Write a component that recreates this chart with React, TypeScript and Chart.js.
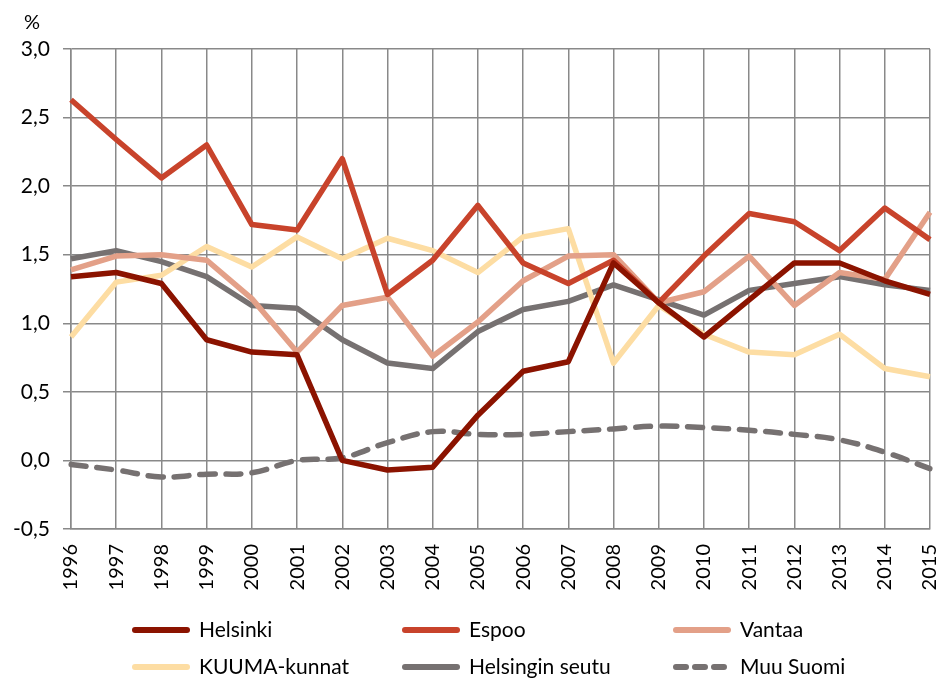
import React, { useEffect, useRef } from "react";
import { Chart, registerables } from "chart.js";

Chart.register(...registerables);

const years = ["1996","1997","1998","1999","2000","2001","2002","2003","2004","2005","2006","2007","2008","2009","2010","2011","2012","2013","2014","2015"];

const helsinki = [1.34,1.37,1.29,0.88,0.79,0.77,0.0,-0.07,-0.05,0.33,0.65,0.72,1.44,1.15,0.90,1.17,1.44,1.44,1.31,1.21];
const espoo = [2.63,2.34,2.06,2.30,1.72,1.68,2.20,1.21,1.46,1.86,1.44,1.29,1.46,1.15,1.49,1.80,1.74,1.53,1.84,1.61];
const vantaa = [1.39,1.49,1.50,1.46,1.18,0.79,1.13,1.19,0.76,1.01,1.31,1.49,1.50,1.15,1.23,1.49,1.13,1.37,1.32,1.81];
const kuuma = [0.90,1.30,1.35,1.56,1.41,1.63,1.47,1.62,1.53,1.37,1.63,1.69,0.71,1.13,0.92,0.79,0.77,0.92,0.67,0.61];
const seutu = [1.47,1.53,1.45,1.34,1.13,1.11,0.88,0.71,0.67,0.94,1.10,1.16,1.28,1.17,1.06,1.24,1.29,1.34,1.28,1.24];
const muuSuomi = [-0.03,-0.07,-0.12,-0.10,-0.09,0.00,0.02,0.13,0.21,0.19,0.19,0.21,0.23,0.25,0.24,0.22,0.19,0.15,0.06,-0.06];

const seriesNames = ["Helsinki","Espoo","Vantaa","KUUMA-kunnat","Helsingin seutu","Muu Suomi"];
const seriesColors = ["#8B1300","#C8432B","#E3A088","#FDDDA3","#767171","#767171"];

const FONT = "Lato, 'Open Sans', sans-serif";

const legendPlugin = {
  id: "customLegend",
  afterDraw(chart: any) {
    const ctx = chart.ctx;
    ctx.save();
    ctx.fillStyle = "#000";
    ctx.font = `20px ${FONT}`;
    ctx.textAlign = "center";
    ctx.textBaseline = "middle";
    ctx.fillText("%", 32, 23);
    const cols = [132, 402, 673];
    const rows = [630, 667];
    seriesNames.forEach((name, i) => {
      const x = cols[i % 3];
      const y = rows[Math.floor(i / 3)];
      ctx.strokeStyle = seriesColors[i];
      ctx.lineWidth = 6;
      ctx.lineCap = "round";
      if (i === 5) ctx.setLineDash([10, 9]);
      else ctx.setLineDash([]);
      ctx.beginPath();
      ctx.moveTo(x + 3, y);
      ctx.lineTo(x + 55, y);
      ctx.stroke();
      ctx.setLineDash([]);
      ctx.fillStyle = "#000";
      ctx.font = `21px ${FONT}`;
      ctx.textAlign = "left";
      ctx.textBaseline = "middle";
      ctx.fillText(name, x + 67, y);
    });
    ctx.restore();
  },
};

export default function App() {
  const ref = useRef<HTMLCanvasElement | null>(null);
  useEffect(() => {
    document.body.style.margin = "0";
    const allData = [helsinki, espoo, vantaa, kuuma, seutu, muuSuomi];
    const chart = new Chart(ref.current as HTMLCanvasElement, {
      type: "line",
      data: {
        labels: years,
        datasets: allData.map((d, i) => ({
          label: seriesNames[i],
          data: d,
          borderColor: seriesColors[i],
          backgroundColor: seriesColors[i],
          borderWidth: 5.5,
          pointRadius: 0,
          fill: false,
          tension: i === 5 ? 0.4 : 0,
          borderDash: i === 5 ? [15, 11] : [],
          borderCapStyle: i === 5 ? "round" : "butt",
          borderJoinStyle: "round",
        })) as any,
      },
      options: {
        responsive: false,
        animation: false,
        layout: { padding: { left: 0, right: 11, top: 49, bottom: 0 } },
        plugins: {
          legend: { display: false },
          tooltip: { enabled: false },
        },
        scales: {
          x: {
            type: "category",
            offset: false,
            grid: { color: "#898989", lineWidth: 1.5, drawTicks: false, offset: false },
            border: { color: "#898989", width: 1.5 },
            ticks: {
              minRotation: 90,
              maxRotation: 90,
              padding: 15,
              color: "#000",
              font: { family: FONT, size: 20 },
              autoSkip: false,
            },
            afterFit(scale: any) {
              scale.height = 150;
              scale.paddingLeft = 0;
              scale.paddingRight = 0;
            },
          },
          y: {
            min: -0.5,
            max: 3.0,
            grid: { color: "#898989", lineWidth: 1.5, tickLength: 8 },
            border: { color: "#898989", width: 1.5 },
            ticks: {
              stepSize: 0.5,
              padding: 13,
              color: "#000",
              font: { family: FONT, size: 21 },
              callback: (v: any) => Number(v).toFixed(1).replace(".", ","),
            },
            afterFit(scale: any) {
              scale.width = 71;
              scale.paddingTop = 0;
              scale.paddingBottom = 0;
            },
          },
        },
      },
      plugins: [legendPlugin],
    });
    return () => chart.destroy();
  }, []);
  return <canvas ref={ref} width={941} height={679} style={{ display: "block" }} />;
}
